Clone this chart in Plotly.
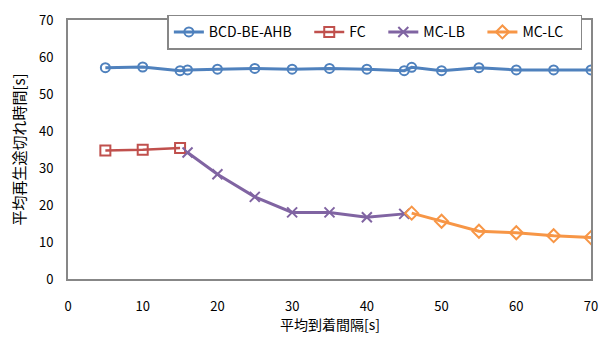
import plotly.graph_objects as go

# Mean arrival interval [s] and mean playback interruption time [s]
bcd_x = [5, 10, 15, 16, 20, 25, 30, 35, 40, 45, 46, 50, 55, 60, 65, 70]
bcd_y = [57.1, 57.3, 56.3, 56.5, 56.7, 56.9, 56.7, 56.9, 56.7, 56.3, 57.2, 56.3, 57.1, 56.5, 56.5, 56.5]

fc_x = [5, 10, 15]
fc_y = [34.7, 34.9, 35.4]

mclb_x = [16, 20, 25, 30, 35, 40, 45]
mclb_y = [34.2, 28.3, 22.2, 18.0, 18.0, 16.7, 17.6]

mclc_x = [46, 50, 55, 60, 65, 70]
mclc_y = [17.8, 15.6, 12.9, 12.5, 11.7, 11.2]

series = [
    ("BCD-BE-AHB", bcd_x, bcd_y, "#4F81BD", "circle-open", 9, 3),
    ("FC", fc_x, fc_y, "#C0504D", "square-open", 10, 2.5),
    ("MC-LB", mclb_x, mclb_y, "#8064A2", "x-thin-open", 10, 3),
    ("MC-LC", mclc_x, mclc_y, "#F79646", "diamond-open", 10, 3),
]

font_family = "Noto Sans CJK JP"
pad = "\u00a0" * 4  # extra room after each legend label

fig = go.Figure()
for name, xs, ys, color, symbol, msize, lw in series:
    fig.add_trace(go.Scatter(
        x=xs, y=ys, name=name + pad, mode="lines+markers",
        line=dict(color=color, width=lw),
        marker=dict(symbol=symbol, size=msize, color=color,
                    line=dict(color=color, width=2)),
    ))

axis_common = dict(
    showgrid=False, zeroline=False, showline=True, mirror=True,
    linecolor="#878787", linewidth=2, ticks="",
    tickfont=dict(family=font_family, size=13, color="#000000"),
)

fig.update_layout(
    width=608, height=338,
    margin=dict(l=68, r=10, t=13, b=59),
    paper_bgcolor="white", plot_bgcolor="white",
    font=dict(family=font_family, color="#000000"),
    showlegend=True,
    legend=dict(
        orientation="h", x=0.19, y=1.02, xanchor="left", yanchor="top",
        bordercolor="#878787", borderwidth=1.5, bgcolor="white",
        font=dict(family=font_family, size=14),
        itemwidth=30,
    ),
    xaxis=dict(range=[0, 70], dtick=10, ticklabelstandoff=14, **axis_common),
    yaxis=dict(range=[0, 70], dtick=10, ticklabelstandoff=10,
               title=dict(text="平均再生途切れ時間[s]", font=dict(size=15), standoff=10),
               **axis_common),
    annotations=[dict(
        text="平均到着間隔[s]", xref="paper", yref="paper",
        x=0.5, y=-0.175, xanchor="center", yanchor="middle",
        showarrow=False, font=dict(family=font_family, size=14),
    )],
)

fig.write_html("out.html")
